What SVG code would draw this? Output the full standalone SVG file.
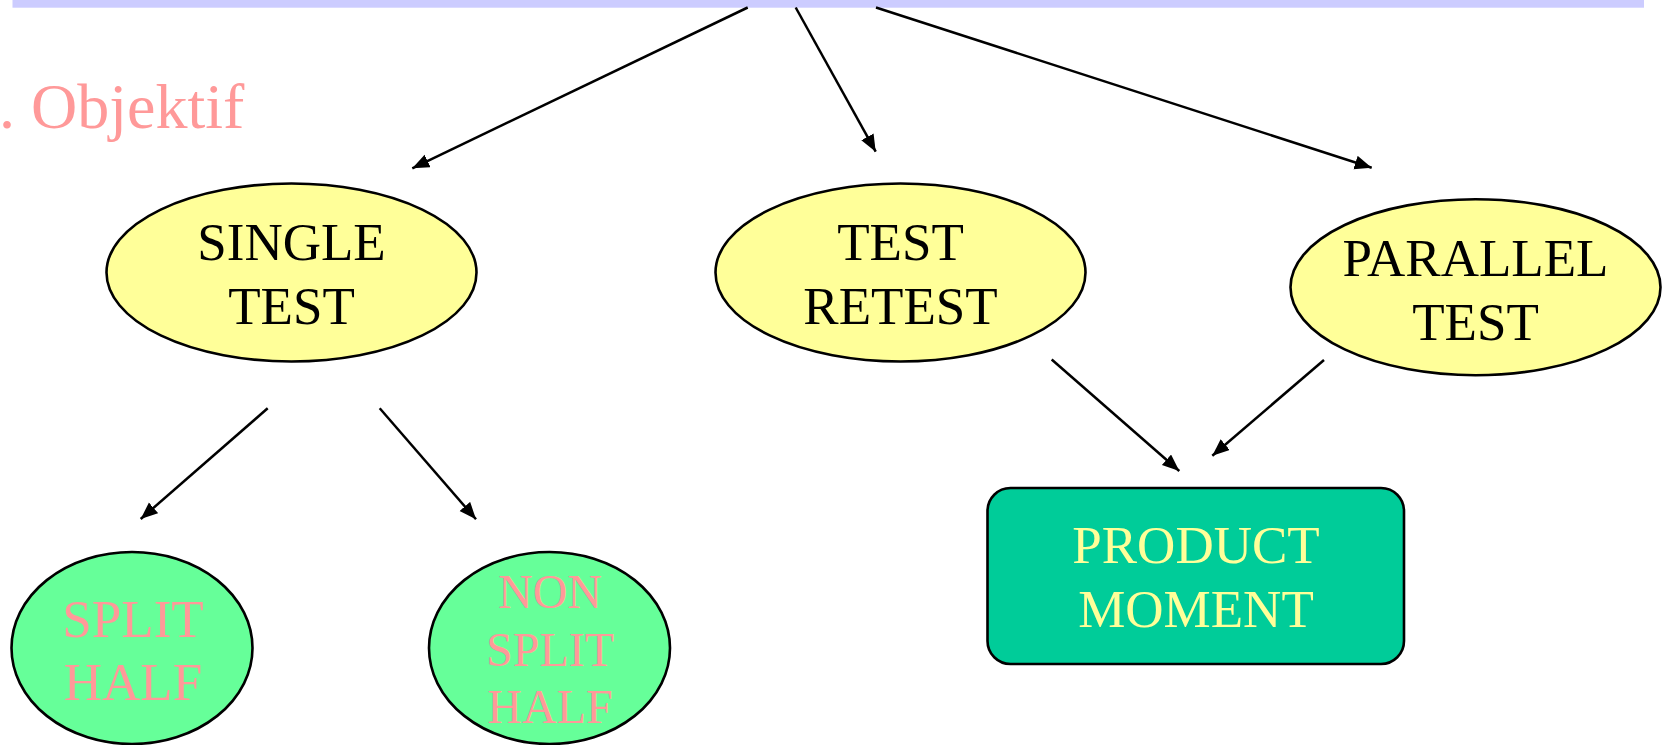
<svg xmlns="http://www.w3.org/2000/svg" width="1667" height="745" viewBox="0 0 1667 745">
<defs>
<marker id="arr" markerUnits="userSpaceOnUse" markerWidth="20" markerHeight="16" refX="17" refY="7" orient="auto">
<path d="M0,0 L17,7 L0,14 z" fill="#000"/>
</marker>
<style>
.t{font-family:"Liberation Serif","Times New Roman",serif;text-anchor:middle;}
.yel{fill:#FFFF99;stroke:#000;stroke-width:2.6;}
.grn{fill:#66FF99;stroke:#000;stroke-width:2.6;}
.blk{fill:#000;font-size:53px;}
.pink{fill:#FF9999;}
.con{stroke:#000;stroke-width:2.5;fill:none;marker-end:url(#arr);}
</style>
</defs>
<rect id="topbar" x="12.5" y="0" width="1631.5" height="7.7" fill="#CCCCFF"/>
<text id="title" x="-1" y="128" font-family="'Liberation Serif','Times New Roman',serif" font-size="64" fill="#FF9999">. Objektif</text>
<g id="connectors">
<line class="con" x1="747.7" y1="7.5" x2="412.3" y2="168.3"/>
<line class="con" x1="795.7" y1="7.5" x2="875.7" y2="151.7"/>
<line class="con" x1="876" y1="7.5" x2="1371.7" y2="167.7"/>
<line class="con" x1="267.7" y1="408.3" x2="140.7" y2="519"/>
<line class="con" x1="379.7" y1="408.3" x2="476" y2="519.3"/>
<line class="con" x1="1051.7" y1="359.5" x2="1179.3" y2="471"/>
<line class="con" x1="1324" y1="360" x2="1212.3" y2="455.7"/>
</g>
<g id="single-test">
<ellipse class="yel" cx="291.5" cy="272.5" rx="185" ry="89"/>
<text class="t blk" x="291.5" y="260">SINGLE</text>
<text class="t blk" x="291.5" y="324">TEST</text>
</g>
<g id="test-retest">
<ellipse class="yel" cx="900.5" cy="272.5" rx="185" ry="89"/>
<text class="t blk" x="900.5" y="260">TEST</text>
<text class="t blk" x="900.5" y="324">RETEST</text>
</g>
<g id="parallel-test">
<ellipse class="yel" cx="1475.5" cy="287.2" rx="185" ry="88"/>
<text class="t blk" x="1475.5" y="276">PARALLEL</text>
<text class="t blk" x="1475.5" y="340">TEST</text>
</g>
<g id="split-half">
<ellipse class="grn" cx="132" cy="648" rx="120.5" ry="96"/>
<text class="t pink" font-size="53" x="133" y="636.7">SPLIT</text>
<text class="t pink" font-size="53" x="133" y="700">HALF</text>
</g>
<g id="non-split-half">
<ellipse class="grn" cx="549.5" cy="648" rx="120.5" ry="96"/>
<text class="t pink" font-size="48" x="550" y="608.3">NON</text>
<text class="t pink" font-size="48" x="550" y="666">SPLIT</text>
<text class="t pink" font-size="48" x="550" y="723.3">HALF</text>
</g>
<g id="product-moment">
<rect x="987.5" y="488" width="416.5" height="176" rx="23" ry="23" fill="#00CC99" stroke="#000" stroke-width="2.6"/>
<text class="t" font-size="53" fill="#FFFF99" x="1196" y="563.3">PRODUCT</text>
<text class="t" font-size="53" fill="#FFFF99" x="1196" y="627.3">MOMENT</text>
</g>
</svg>
